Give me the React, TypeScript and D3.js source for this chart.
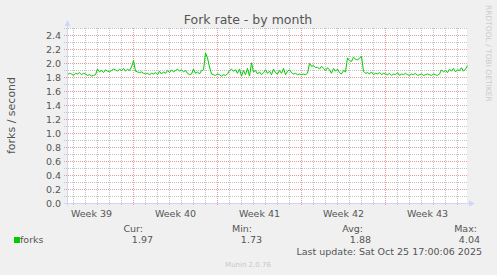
import React from 'react';
import * as d3 from 'd3';

const title = 'Fork rate - by month';
const yLabel = 'forks / second';
const seriesName = 'forks';
const startTime = new Date(2025, 8, 23, 12);
const endTime = new Date(2025, 9, 26, 20);
const stepHours = 4;

const forks = [
  1.84, 1.86, 1.85, 1.83, 1.86, 1.85, 1.87, 1.84, 1.86, 1.85,
  1.83, 1.84, 1.82, 1.83, 1.84, 1.92, 1.88, 1.90, 1.87, 1.91,
  1.89, 1.88, 1.90, 1.92, 1.91, 1.89, 1.92, 1.90, 1.93, 1.89,
  1.92, 1.90, 1.95, 2.04, 1.89, 1.88, 1.87, 1.88, 1.86, 1.85,
  1.86, 1.84, 1.86, 1.85, 1.87, 1.84, 1.89, 1.85, 1.88, 1.86,
  1.90, 1.87, 1.91, 1.88, 1.90, 1.92, 1.89, 1.91, 1.88, 1.90,
  1.86, 1.84, 1.85, 1.92, 1.86, 1.88, 1.85, 1.90, 1.91, 2.15,
  2.08, 1.95, 1.85, 1.84, 1.83, 1.85, 1.84, 1.82, 1.84, 1.83,
  1.85, 1.90, 1.92, 1.89, 1.91, 1.86, 1.92, 1.82, 1.90, 1.84,
  1.93, 1.82, 2.01, 1.88, 1.90, 1.85, 1.88, 1.84, 1.87, 1.91,
  1.86, 1.89, 1.84, 1.92, 1.87, 1.85, 1.90, 1.86, 1.93, 1.84,
  1.89, 1.91, 1.87, 1.85, 1.86, 1.84, 1.85, 1.84, 1.85, 1.84,
  1.86, 2.00, 1.96, 1.97, 1.94, 1.95, 1.92, 1.96, 1.93, 1.90,
  1.94, 1.91, 1.86, 1.93, 1.89, 1.92, 1.87, 1.85, 1.90, 1.88,
  2.08, 2.04, 2.03, 2.09, 2.06, 2.05, 2.08, 2.10, 1.89, 1.86,
  1.87, 1.85, 1.88, 1.84, 1.86, 1.85, 1.87, 1.84, 1.86, 1.85,
  1.84, 1.86, 1.83, 1.85, 1.84, 1.87, 1.83, 1.85, 1.84, 1.86,
  1.84, 1.83, 1.85, 1.84, 1.86, 1.83, 1.84, 1.85, 1.83, 1.84,
  1.85, 1.84, 1.83, 1.85, 1.84, 1.83, 1.85, 1.91, 1.88, 1.90,
  1.87, 1.92, 1.89, 1.93, 1.88, 1.91, 1.90, 1.94, 1.89, 1.92, 1.97,
];

const yTickValues = [0, 0.2, 0.4, 0.6, 0.8, 1.0, 1.2, 1.4, 1.6, 1.8, 2.0, 2.2, 2.4];
const legendHeads = ['Cur:', 'Min:', 'Avg:', 'Max:'];
const legendValues = ['1.97', '1.73', '1.88', '4.04'];
const lastUpdate = 'Last update: Sat Oct 25 17:00:06 2025';
const footer = 'Munin 2.0.76';
const watermark = 'RRDTOOL / TOBI OETIKER';

const W = 497;
const H = 275;
const FONT = 'DejaVu Sans, sans-serif';
const TEXT = '#555555';
const AXIS = '#cfd6f8';
const MGRID = '#e29a9a';
const GRID = '#c4c4c4';
const LINE = '#00cc00';

export default function App() {
  const x = d3.scaleTime().domain([startTime, endTime]).range([67.5, 467.5]);
  const y = d3.scaleLinear().domain([0, 2.5]).range([203.5, 28.5]);

  const points = forks.map((v, i) => ({ t: d3.timeHour.offset(startTime, i * stepHours), v }));
  const line = d3
    .line<{ t: Date; v: number }>()
    .x((d) => x(d.t))
    .y((d) => y(d.v));

  const days = d3.timeDay.range(startTime, endTime);
  const weeks = d3.timeMonday.range(startTime, endTime);
  const weekLabels = d3.timeMonday
    .range(d3.timeMonday.offset(startTime, -1), endTime)
    .map((w) => ({ w, mid: d3.timeHour.offset(w, 84) }))
    .filter((d) => d.mid > startTime && d.mid < endTime);
  const fmtWeek = d3.timeFormat('%V');

  const hGrid = d3.range(1, 26).map((k) => ({ v: k / 10, major: k % 2 === 0 }));

  const legendHeadX = [143, 252, 363, 477];
  const legendValX = [153, 262, 371, 480];

  return (
    <svg
      width={W}
      height={H}
      style={{ position: 'absolute', left: 0, top: 0, display: 'block' }}
      fontFamily={FONT}
    >
      <rect x={0} y={0} width={W} height={H} fill="#f0f0f0" />
      <rect x={67} y={28} width={400} height={175} fill="#ffffff" />

      {/* minor vertical grid (days) */}
      {days
        .filter((d) => d3.timeMonday.floor(d).getTime() !== d.getTime())
        .map((d, i) => (
          <line
            key={'d' + i}
            x1={Math.round(x(d) - 0.5) + 0.5}
            x2={Math.round(x(d) - 0.5) + 0.5}
            y1={28}
            y2={206}
            stroke={GRID}
            strokeDasharray="1,1"
          />
        ))}
      {/* minor horizontal grid */}
      {hGrid
        .filter((g) => !g.major)
        .map((g, i) => (
          <line
            key={'h' + i}
            x1={64}
            x2={467}
            y1={Math.round(y(g.v) - 0.5) + 0.5}
            y2={Math.round(y(g.v) - 0.5) + 0.5}
            stroke={GRID}
            strokeDasharray="1,1"
          />
        ))}
      {/* major horizontal grid */}
      {hGrid
        .filter((g) => g.major)
        .map((g, i) => (
          <line
            key={'H' + i}
            x1={64}
            x2={467}
            y1={Math.round(y(g.v) - 0.5) + 0.5}
            y2={Math.round(y(g.v) - 0.5) + 0.5}
            stroke={MGRID}
            strokeDasharray="1,1"
          />
        ))}
      {/* major vertical grid (weeks) */}
      {weeks.map((w, i) => (
        <line
          key={'w' + i}
          x1={Math.round(x(w) - 0.5) + 0.5}
          x2={Math.round(x(w) - 0.5) + 0.5}
          y1={28}
          y2={206}
          stroke={MGRID}
          strokeDasharray="1,1"
        />
      ))}

      {/* data line */}
      <path d={line(points) || ''} fill="none" stroke={LINE} strokeWidth={1} />

      {/* axes */}
      <line x1={67.5} x2={67.5} y1={206} y2={25} stroke={AXIS} />
      <path d="M64.5,26 L70.5,26 L67.5,20 Z" fill={AXIS} />
      <line x1={64} x2={470} y1={203.5} y2={203.5} stroke={AXIS} />
      <path d="M469,200.5 L469,206.5 L475,203.5 Z" fill={AXIS} />

      {/* y tick labels */}
      {yTickValues.map((v) => (
        <text key={'yl' + v} x={61} y={y(v) + 3.3} fontSize={9.5} fill={TEXT} textAnchor="end">
          {v.toFixed(1)}
        </text>
      ))}

      {/* x labels */}
      {weekLabels.map((d, i) => (
        <text key={'xl' + i} x={x(d.mid)} y={216.5} fontSize={9.5} fill={TEXT} textAnchor="middle">
          {'Week ' + +fmtWeek(d.w)}
        </text>
      ))}

      {/* title */}
      <text x={248} y={24} fontSize={12.5} fill={TEXT} textAnchor="middle">
        {title}
      </text>

      {/* y label */}
      <text
        transform={`translate(14.5, 115.5) rotate(-90)`}
        fontSize={11}
        fill={TEXT}
        textAnchor="middle"
      >
        {yLabel}
      </text>

      {/* watermark */}
      <text
        transform={`translate(485.5, 5) rotate(90)`}
        fontSize={7.5}
        fill="#cccccc"
        textAnchor="start"
      >
        {watermark}
      </text>

      {/* legend */}
      {legendHeads.map((h, i) => (
        <text key={'lh' + i} x={legendHeadX[i]} y={231.5} fontSize={9.5} fill={TEXT} textAnchor="end">
          {h}
        </text>
      ))}
      <rect x={14} y={237} width={6} height={6} fill={LINE} />
      <text x={20} y={243.3} fontSize={9.5} fill={TEXT}>
        {seriesName}
      </text>
      {legendValues.map((v, i) => (
        <text key={'lv' + i} x={legendValX[i]} y={243.3} fontSize={9.5} fill={TEXT} textAnchor="end">
          {v}
        </text>
      ))}
      <text x={482} y={255} fontSize={9.5} fill={TEXT} textAnchor="end">
        {lastUpdate}
      </text>
      <text x={248} y={266.5} fontSize={7} fill="#c8c8c8" textAnchor="middle">
        {footer}
      </text>
    </svg>
  );
}
